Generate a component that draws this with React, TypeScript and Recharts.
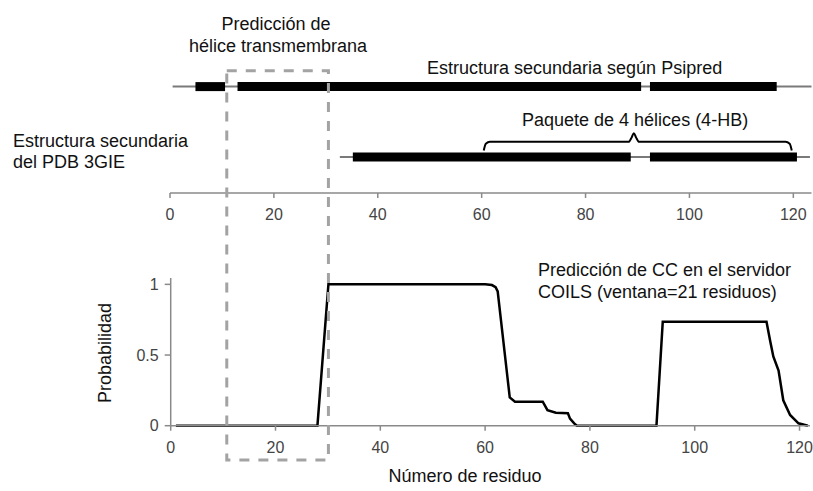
import React from 'react';
import { LineChart, Line, XAxis, YAxis, ReferenceArea } from 'recharts';

const W = 813;
const H = 491;

const residueTicks = [0, 20, 40, 60, 80, 100, 120];
const probTicks = [0, 0.5, 1];

// secondary structure tracks, residues [start, end]
const psipredLevel = 8;
const psipredSpan = [0.5, 123.5];
const psipredHelices = [[4.9, 10.6], [13.0, 90.7], [92.4, 116.8]];

const pdbLevel = 2.7;
const pdbSpan = [32.7, 123.2];
const pdbHelices = [[35.2, 88.7], [92.4, 120.7]];

// curly brace over the 4-helix bundle
const braceResidues = [60.4, 60.8, 61.6, 88.3, 88.9, 89.3, 89.7, 90.3, 118.5, 119.3, 119.7];
const braceLevels = [3.2, 3.7, 3.85, 3.85, 4.2, 4.5, 4.2, 3.85, 3.85, 3.7, 3.2];

// predicted transmembrane helix
const tmHelix = [10.7, 30.1];

// COILS coiled-coil probability (window = 21)
const coilsResidue = [1, 28, 30.1, 60, 61.3, 62, 62.4, 64.7, 65.7, 71, 71.9, 73.5, 75.8, 76.2, 77, 77.5, 92.7, 93.9, 113.7, 114.4, 115, 116, 116.9, 118.2, 119.8, 121.6];
const coilsProb = [0, 0, 1, 1, 0.995, 0.98, 0.95, 0.2, 0.17, 0.17, 0.11, 0.092, 0.088, 0.05, 0.017, 0, 0, 0.735, 0.735, 0.6, 0.49, 0.39, 0.18, 0.076, 0.017, 0];

const coilsData = coilsResidue.map((x, i) => ({ x, p: coilsProb[i] }));
const seg = (s: number[], y: number) => [{ x: s[0], y }, { x: s[1], y }];
const braceData = braceResidues.map((x, i) => ({ x, y: braceLevels[i] }));

const axisStyle = { stroke: '#8a8a8a', strokeWidth: 1.5 };
const tickStyle = { fontSize: 16, fill: '#444' };

const textStyle: React.CSSProperties = {
  position: 'absolute',
  fontSize: 18,
  color: '#111',
  whiteSpace: 'nowrap',
  lineHeight: '18px',
};

const Label = ({ x, y, text, center }: { x: number; y: number; text: string; center?: boolean }) => (
  <div style={{ ...textStyle, left: x, top: y - 14, transform: center ? 'translateX(-50%)' : undefined }}>
    {text}
  </div>
);

const layer: React.CSSProperties = { position: 'absolute', left: 0, top: 0 };

export default function App() {
  return (
    <div style={{ position: 'relative', width: W, height: H, fontFamily: '"Liberation Sans", Arial, sans-serif', background: '#fff' }}>
      <style>{'body{margin:0}'}</style>

      {/* structure tracks */}
      <div style={layer}>
        <LineChart width={W} height={H} margin={{ top: 60, right: 1.5, bottom: 268, left: 170 }}>
          <XAxis
            type="number"
            dataKey="x"
            domain={[0, 123.5]}
            ticks={residueTicks}
            height={30}
            tickSize={5}
            tickMargin={11}
            axisLine={axisStyle}
            tickLine={axisStyle}
            tick={tickStyle}
          />
          <YAxis hide type="number" domain={[0, 10]} />
          <Line data={seg(psipredSpan, psipredLevel)} dataKey="y" stroke="#7a7a7a" strokeWidth={2} dot={false} isAnimationActive={false} />
          {psipredHelices.map((h, i) => (
            <Line key={'ps' + i} data={seg(h, psipredLevel)} dataKey="y" stroke="#000" strokeWidth={9} dot={false} isAnimationActive={false} />
          ))}
          <Line data={seg(pdbSpan, pdbLevel)} dataKey="y" stroke="#7a7a7a" strokeWidth={2} dot={false} isAnimationActive={false} />
          {pdbHelices.map((h, i) => (
            <Line key={'pdb' + i} data={seg(h, pdbLevel)} dataKey="y" stroke="#000" strokeWidth={9} dot={false} isAnimationActive={false} />
          ))}
          <Line data={braceData} dataKey="y" type="monotone" stroke="#000" strokeWidth={2} dot={false} isAnimationActive={false} />
        </LineChart>
      </div>

      {/* COILS probability */}
      <div style={layer}>
        <LineChart width={W} height={H} data={coilsData} margin={{ top: 278, right: 3, bottom: 35.3, left: 120 }}>
          <XAxis
            type="number"
            dataKey="x"
            domain={[0, 122]}
            ticks={residueTicks}
            height={30}
            tickSize={5}
            tickMargin={11}
            axisLine={axisStyle}
            tickLine={axisStyle}
            tick={tickStyle}
          />
          <YAxis
            type="number"
            domain={[0, 1.045]}
            ticks={probTicks}
            width={50.7}
            tickSize={6}
            tickMargin={6}
            axisLine={axisStyle}
            tickLine={axisStyle}
            tick={tickStyle}
          />
          <Line dataKey="p" type="linear" stroke="#000" strokeWidth={2.5} dot={false} isAnimationActive={false} />
        </LineChart>
      </div>

      {/* transmembrane helix box across both panels */}
      <div style={layer}>
        <LineChart width={W} height={H} data={seg(tmHelix, 0.5)} margin={{ top: 70.7, right: 3, bottom: 31, left: 170.7 }}>
          <XAxis hide type="number" dataKey="x" domain={[0, 122]} />
          <YAxis hide type="number" domain={[0, 1]} />
          <Line dataKey="y" stroke="none" dot={false} isAnimationActive={false} />
          <ReferenceArea
            x1={tmHelix[0]}
            x2={tmHelix[1]}
            y1={0}
            y2={1}
            ifOverflow="visible"
            fill="none"
            fillOpacity={0}
            stroke="#a3a3a3"
            strokeOpacity={1}
            strokeWidth={3}
            strokeDasharray="10 9"
          />
        </LineChart>
      </div>

      <Label x={276} y={29} text="Predicción de" center />
      <Label x={278} y={50.5} text="hélice transmembrana" center />
      <Label x={427} y={72.5} text="Estructura secundaria según Psipred" />
      <Label x={522} y={124.5} text="Paquete de 4 hélices (4-HB)" />
      <Label x={13} y={146} text="Estructura secundaria" />
      <Label x={13} y={167} text="del PDB 3GIE" />
      <Label x={538} y={275} text="Predicción de CC en el servidor" />
      <Label x={538} y={297} text="COILS (ventana=21 residuos)" />
      <Label x={465} y={481} text="Número de residuo" center />
      <div style={{ ...textStyle, left: 105, top: 353, transform: 'translate(-50%, -50%) rotate(-90deg)' }}>
        Probabilidad
      </div>
    </div>
  );
}
